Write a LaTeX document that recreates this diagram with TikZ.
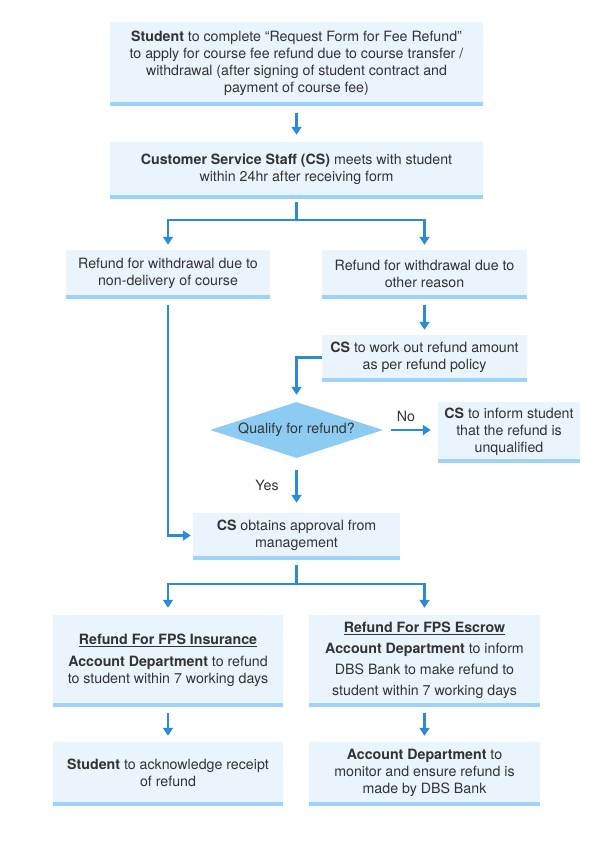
\documentclass[tikz,border=0pt]{standalone}
\usepackage{fontspec}
\setmainfont{TeX Gyre Heros}
\usetikzlibrary{arrows.meta,shapes.geometric}
\definecolor{boxfill}{HTML}{EAF4FD}
\definecolor{stripeblue}{HTML}{9ED3F7}
\definecolor{arrowblue}{HTML}{2B8BD6}
\definecolor{qfill}{HTML}{8DCCF2}
\definecolor{txt}{HTML}{333333}
\begin{document}
\begin{tikzpicture}[x=1pt,y=-1pt,
  box/.style={fill=boxfill,align=center,inner sep=0pt,text=txt,font=\fontsize{14.2}{17}\selectfont},
  stripe/.style={draw=stripeblue,line width=3.5pt},
  link/.style={draw=arrowblue,line width=2.2pt},
  arr/.style={link,-{Triangle[width=10pt,length=8pt]}},
  lbl/.style={text=txt,font=\fontsize{14.2}{17}\selectfont}]
\useasboundingbox (0,0) rectangle (595,842);
% boxes
\node[box,minimum width=373pt,minimum height=82pt] (s1) at (296.5,63)
  {\textbf{Student} to complete “Request Form for Fee Refund”\\to apply for course fee refund due to course transfer /\\withdrawal (after signing of student contract and\\payment of course fee)};
\node[box,minimum width=373pt,minimum height=55pt] (s2) at (296.5,169.5)
  {\textbf{Customer Service Staff (CS)} meets with student\\within 24hr after receiving form};
\node[box,minimum width=204pt,minimum height=47pt] (w1) at (168,273.5)
  {Refund for withdrawal due to\\non-delivery of course};
\node[box,minimum width=205pt,minimum height=47pt] (w2) at (424.5,273.5)
  {Refund for withdrawal due to\\other reason};
\node[box,minimum width=205pt,minimum height=45pt] (c1) at (424.5,357.5)
  {\textbf{CS} to work out refund amount\\as per refund policy};
\node[diamond,aspect=3.1,fill=qfill,inner sep=0pt,minimum width=173pt,minimum height=56pt,
  lbl] (q) at (296.5,430) {Qualify for refund?};
\node[box,minimum width=142pt,minimum height=59pt] (inf) at (509,431.5)
  {\textbf{CS} to inform student\\that the refund is\\unqualified};
\node[box,minimum width=207pt,minimum height=45pt] (s5) at (296.5,535.5)
  {\textbf{CS} obtains approval from\\management};
\node[box,minimum width=230pt,minimum height=90pt] (f1) at (168,660)
  {\textbf{\underline{Refund For FPS Insurance}}\\[5pt]\textbf{Account Department} to refund\\to student within 7 working days};
\node[box,minimum width=231pt,minimum height=90pt] (f2) at (424.5,660)
  {\textbf{\underline{Refund For FPS Escrow}}\\[4pt]\textbf{Account Department} to inform\\[4pt]DBS Bank to make refund to\\[4pt]student within 7 working days};
\node[box,minimum width=230pt,minimum height=62pt] (g1) at (168,773)
  {\textbf{Student} to acknowledge receipt\\of refund};
\node[box,minimum width=231pt,minimum height=62pt] (g2) at (424.5,773)
  {\textbf{Account Department} to\\monitor and ensure refund is\\made by DBS Bank};
\foreach \n in {s1,s2,w1,w2,c1,inf,s5,f1,f2,g1,g2}
  \draw[stripe] (\n.south west) -- (\n.south east);
% connectors
\coordinate (fork1) at (296.5,220);
\coordinate (fork2) at (296.5,584);
\draw[arr,shorten <=9pt,shorten >=7pt] (s1.south) -- (s2.north);
\draw[link,shorten <=5pt] (s2.south) -- (fork1);
\draw[arr,shorten >=5pt] (fork1) -| (w1.north);
\draw[arr,shorten >=5pt] (fork1) -| (w2.north);
\draw[arr,shorten <=8pt,shorten >=5pt] (w2.south) -- (c1.north);
\draw[arr,shorten >=7pt] (c1.west) -| (q.north);
\draw[arr,shorten <=8pt,shorten >=7pt] (q.east) -- (q.east -| inf.west);
\draw[arr,shorten <=12pt,shorten >=10pt] (q.south) -- (s5.north);
\draw[arr,shorten <=8pt,shorten >=2pt] (w1.south) |- (s5.west);
\draw[link,shorten <=7pt] (s5.south) -- (fork2);
\draw[arr,shorten >=7pt] (fork2) -| (f1.north);
\draw[arr,shorten >=7pt] (fork2) -| (f2.north);
\draw[arr,shorten <=8pt,shorten >=6pt] (f1.south) -- (g1.north);
\draw[arr,shorten <=8pt,shorten >=6pt] (f2.south) -- (g2.north);
% labels
\node[lbl] (no) at (406,416) {No};
\node[lbl] (yes) at (267,485) {Yes};
\end{tikzpicture}
\end{document}
